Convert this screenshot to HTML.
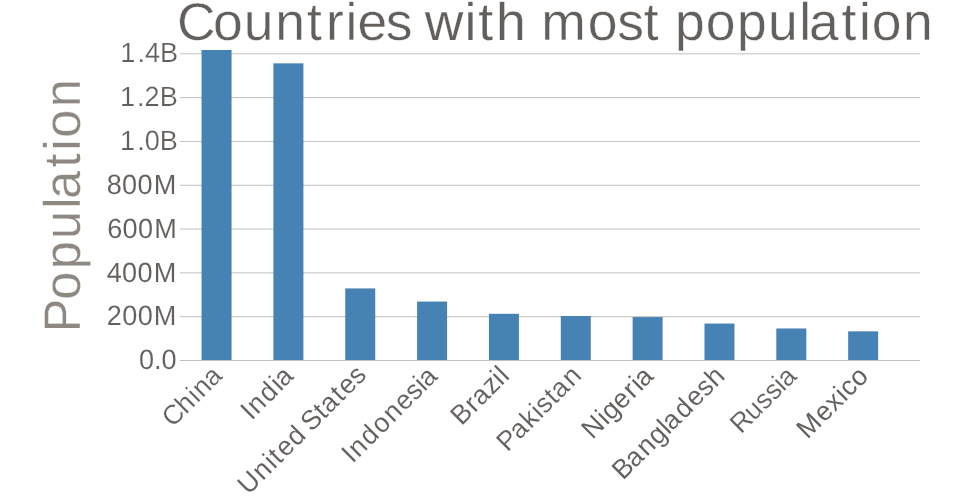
<!DOCTYPE html>
<html lang="en">
<head>
<meta charset="utf-8">
<title>Countries with most population</title>
<style>
  html, body { margin: 0; padding: 0; background: #fff; }
  body { width: 960px; height: 500px; overflow: hidden; }
  svg { display: block; }
  text { font-family: "Liberation Sans", sans-serif; text-rendering: geometricPrecision; stroke: #fff; }
  .grid line { stroke: #C0C0BB; stroke-width: 1; }
  .bars rect { fill: #4682b4; }
  .tick text, .title { fill: #635F5D; }
  .axis-label { fill: #8E8883; }
</style>
</head>
<body>
<svg width="960" height="500" viewBox="0 0 960 500" role="img" aria-label="Countries with most population">
  <rect width="960" height="500" fill="#fff"/>
  <g class="grid">
    <line x1="180" x2="920" y1="360.5" y2="360.5"/>
    <line x1="180" x2="920" y1="316.69" y2="316.69"/>
    <line x1="180" x2="920" y1="272.87" y2="272.87"/>
    <line x1="180" x2="920" y1="229.06" y2="229.06"/>
    <line x1="180" x2="920" y1="185.24" y2="185.24"/>
    <line x1="180" x2="920" y1="141.43" y2="141.43"/>
    <line x1="180" x2="920" y1="97.61" y2="97.61"/>
    <line x1="180" x2="920" y1="53.8" y2="53.8"/>
  </g>
  <g class="bars">
    <rect x="201.55" y="50" width="30" height="310"/>
    <rect x="273.4" y="63.36" width="30" height="296.64"/>
    <rect x="345.24" y="288.41" width="30" height="71.59"/>
    <rect x="417.09" y="301.55" width="30" height="58.45"/>
    <rect x="488.93" y="313.8" width="30" height="46.2"/>
    <rect x="560.78" y="316.01" width="30" height="43.99"/>
    <rect x="632.62" y="317.09" width="30" height="42.91"/>
    <rect x="704.47" y="323.55" width="30" height="36.45"/>
    <rect x="776.31" y="328.46" width="30" height="31.54"/>
    <rect x="848.16" y="331.35" width="30" height="28.65"/>
  </g>
  <g class="y-axis tick">
    <text transform="translate(180,360.5) scale(0.975,1)" x="-42.05 -26.62 -18.95" y="8.64" font-size="27.81" stroke-width="0.11">0.0</text>
    <text transform="translate(180,316.69) scale(0.975,1)" x="-75.13 -59.23 -43.4 -26.87" y="8.64" font-size="27.81" stroke-width="0.11">200M</text>
    <text transform="translate(180,272.87) scale(0.975,1)" x="-75.09 -59.38 -43.55 -27.02" y="8.64" font-size="27.81" stroke-width="0.08">400M</text>
    <text transform="translate(180,229.06) scale(0.975,1)" x="-74.68 -58.87 -43.04 -26.51" y="8.64" font-size="27.81" stroke-width="0.08">600M</text>
    <text transform="translate(180,185.24) scale(0.975,1)" x="-75.23 -59.38 -43.55 -27.02" y="8.64" font-size="27.81" stroke-width="0.08">800M</text>
    <text transform="translate(180,141.43) scale(0.975,1)" x="-61.51 -43.9 -36.24 -20.7" y="8.64" font-size="27.81" stroke-width="0.24">1.0B</text>
    <text transform="translate(180,97.61) scale(0.975,1)" x="-61.67 -44.06 -36.46 -20.86" y="8.64" font-size="27.81" stroke-width="0.24">1.2B</text>
    <text transform="translate(180,53.8) scale(0.975,1)" x="-61.31 -43.7 -35.91 -20.5" y="8.64" font-size="27.81" stroke-width="0.2">1.4B</text>
  </g>
  <g class="x-axis tick">
    <text transform="translate(226.7,360) rotate(-45) scale(0.983,1)" x="-87.77 -68.71 -52.25 -44.89 -29.93" y="9.9" font-size="27.11" stroke-width="0.18">China</text>
    <text transform="translate(298.54,360) rotate(-45) scale(0.983,1)" x="-77.75 -69.23 -52.55 -36.02 -30.54" y="9.75" font-size="27.11" stroke-width="0.1">India</text>
    <text transform="translate(370.39,360) rotate(-45) scale(0.983,1)" x="-185.31 -164.59 -148.18 -140.81 -131.69 -115.77 -100.69 -94.61 -76.41 -68.28 -51.54 -42.43 -27.3" y="9.6" font-size="27.11" stroke-width="0.075">United States</text>
    <text transform="translate(442.23,360) rotate(-45) scale(0.983,1)" x="-139.42 -130.9 -114.21 -97.43 -80.72 -64.55 -49.41 -35.8 -30.33" y="10.2" font-size="27.11" stroke-width="0.11">Indonesia</text>
    <text transform="translate(514.08,360) rotate(-45) scale(0.983,1)" x="-85.4 -66.59 -57.28 -41.31 -27.86 -20.96" y="9.75" font-size="27.11" stroke-width="0.1">Brazil</text>
    <text transform="translate(585.92,360) rotate(-45) scale(0.983,1)" x="-122.97 -105.7 -89.49 -75.14 -68.85 -54.74 -46.61 -29.63" y="9.9" font-size="27.11" stroke-width="0.13">Pakistan</text>
    <text transform="translate(657.77,360) rotate(-45) scale(0.983,1)" x="-104.59 -83.98 -77.37 -62.37 -45.81 -35.48 -30.01" y="10.4" font-size="27.11" stroke-width="0.03">Nigeria</text>
    <text transform="translate(729.61,360) rotate(-45) scale(0.983,1)" x="-163.63 -146.26 -129.43 -113.34 -98.14 -92.63 -75.65 -59.33 -44.21 -30.2" y="10.05" font-size="27.11" stroke-width="0.07">Bangladesh</text>
    <text transform="translate(801.46,360) rotate(-45) scale(0.983,1)" x="-97.04 -78.51 -62.88 -49.18 -35.86 -30.39" y="9.98" font-size="27.11" stroke-width="0.16">Russia</text>
    <text transform="translate(873.3,360) rotate(-45) scale(0.983,1)" x="-104.66 -80.78 -65.2 -50.74 -44.39 -30.41" y="9.9" font-size="27.11" stroke-width="0.02">Mexico</text>
  </g>
  <text class="axis-label" transform="translate(80,205) rotate(-90) scale(0.98,1)" x="-129.89 -96.74 -65.63 -34.69 -3.89 6.14 38.19 55.58 68.75 99.77" y="0" font-size="51.5" stroke-width="0.32">Population</text>
  <text class="title" transform="translate(180,40) scale(1.01,1)" x="-2.99 32.74 63.11 94.37 125.85 144.64 163.92 175.79 203.79 230.26 242.41 281.76 295.27 312.86 342.3 357.81 403.77 432.89 459.13 473.84 490.02 520.63 551.52 582.29 613.17 622.8 654.91 672.26 685.03 715.84" y="0" font-size="52.94"><tspan stroke-width="0.4">Countries</tspan> <tspan stroke-width="0.2">with</tspan> <tspan stroke-width="0.39">most</tspan> <tspan stroke-width="0.4">population</tspan></text>
</svg>
</body>
</html>
